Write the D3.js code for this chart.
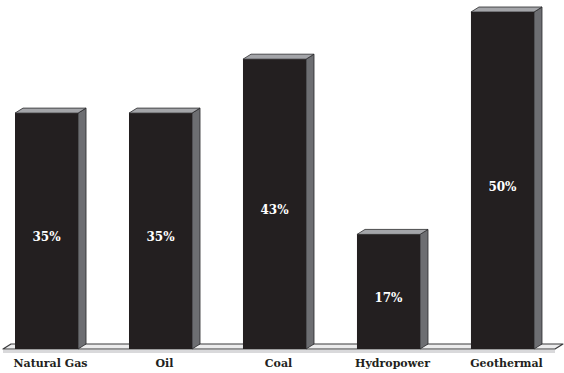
<!DOCTYPE html>
<html>
<head>
<meta charset="utf-8">
<script src="https://cdn.jsdelivr.net/npm/d3@7"></script>
<style>
  html, body { margin: 0; padding: 0; background: #fff; }
  svg { display: block; }
</style>
</head>
<body>
<svg id="chart" width="564" height="373"></svg>
<script>
// Share of energy per source
const categories = ["Natural Gas", "Oil", "Coal", "Hydropower", "Geothermal"];
const values = [35, 35, 43, 17, 50];
const valueLabels = ["35%", "35%", "43%", "17%", "50%"];

const W = 564, H = 373;
const base = 349;          // front edge of the floor
const dx = 8, dy = 5;      // 3D depth offset

const svg = d3.select("#chart");

const x = d3.scaleBand()
  .domain(categories)
  .range([15, 534])
  .paddingInner(0.447)
  .paddingOuter(0);

const y = d3.scaleLinear()
  .domain([0, 50])
  .range([base, 12]);

// Floor platform
const floorL = 3, floorR = 555;
svg.append("rect")
  .attr("x", floorL).attr("y", base + 1)
  .attr("width", floorR - floorL).attr("height", 3)
  .attr("fill", "#d9d9db");
svg.append("path")
  .attr("d", `M${floorL},${base} L${floorL + dx},${base - dy} L${floorR + dx},${base - dy} L${floorR},${base} Z`)
  .attr("fill", "#ececed")
  .attr("stroke", "#3a3a3c")
  .attr("stroke-width", 1.2)
  .attr("stroke-linejoin", "round");

// Bars
const bars = svg.append("g").selectAll("g")
  .data(categories.map((c, i) => ({ c, v: values[i], label: valueLabels[i] })))
  .join("g");

bars.each(function (d) {
  const g = d3.select(this);
  const x0 = x(d.c), x1 = x0 + x.bandwidth();
  const yt = y(d.v);
  // side face
  g.append("path")
    .attr("d", `M${x1},${yt} L${x1 + dx},${yt - dy} L${x1 + dx},${base - dy} L${x1},${base} Z`)
    .attr("fill", "#6d6e72")
    .attr("stroke", "#2a2a2c").attr("stroke-width", 0.8).attr("stroke-linejoin", "round");
  // top face
  g.append("path")
    .attr("d", `M${x0},${yt} L${x0 + dx},${yt - dy} L${x1 + dx},${yt - dy} L${x1},${yt} Z`)
    .attr("fill", "#a4a5a9")
    .attr("stroke", "#2a2a2c").attr("stroke-width", 0.8).attr("stroke-linejoin", "round");
  // front face
  g.append("rect")
    .attr("x", x0).attr("y", yt)
    .attr("width", x.bandwidth()).attr("height", base - yt)
    .attr("fill", "#231f20");
  // value label
  g.append("text")
    .attr("x", x0 + x.bandwidth() / 2)
    .attr("y", (yt + base) / 2 + 6)
    .attr("dy", "0.35em")
    .attr("text-anchor", "middle")
    .attr("fill", "#ffffff")
    .attr("font-family", "'DejaVu Serif', 'Liberation Serif', serif")
    .attr("font-weight", "bold")
    .attr("font-size", 12)
    .text(d.label);
});

// Category axis labels
const axis = d3.axisBottom(x).tickSize(0).tickPadding(0);
const ax = svg.append("g")
  .attr("transform", `translate(${dx / 2},${base + 10})`)
  .call(axis);
ax.select(".domain").remove();
ax.selectAll("text")
  .attr("dy", "0.71em")
  .attr("fill", "#231f20")
  .attr("font-family", "'DejaVu Serif', 'Liberation Serif', serif")
  .attr("font-weight", "bold")
  .attr("font-size", 11);
</script>
</body>
</html>
